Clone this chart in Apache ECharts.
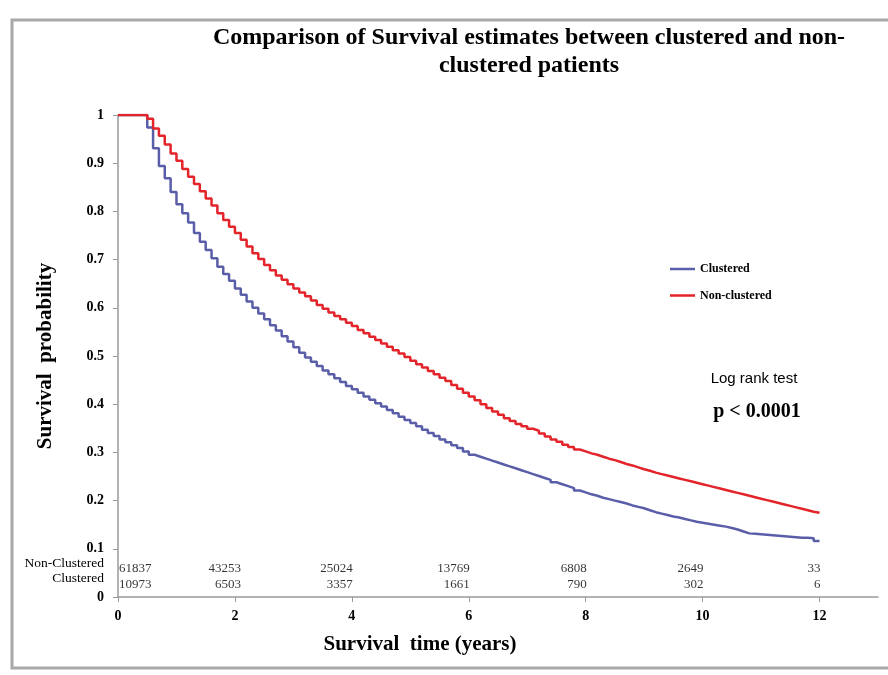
<!DOCTYPE html>
<html>
<head>
<meta charset="utf-8">
<script src="https://cdn.jsdelivr.net/npm/echarts@6/dist/echarts.min.js"></script>
<style>html,body{margin:0;padding:0;background:#fff}#c{width:888px;height:675px}</style>
</head>
<body>
<div id="c"></div>
<script>
// ---- data ----
var stepTimes = [0.5,0.6,0.7,0.8,0.9,1.0,1.1,1.2,1.3,1.4,1.5,1.6,1.7,1.8,1.9,2.0,2.1,2.2,2.3,2.4,2.5,2.6,2.7,2.8,2.9,3.0,3.1,3.2,3.3,3.4,3.5,3.6,3.7,3.8,3.9,4.0,4.1,4.2,4.3,4.4,4.5,4.6,4.7,4.8,4.9,5.0,5.1,5.2,5.3,5.4,5.5,5.6,5.7,5.8,5.9,6.0,6.1,6.2,6.3,6.4,6.5,6.6,6.7,6.8,6.9,7.0,7.1,7.2,7.3,7.4,7.5,7.6,7.7,7.8,7.9,8.0,8.1,8.2,8.3,8.4,8.5,8.6,8.7,8.8,8.9,9.0,9.1,9.2,9.3,9.4,9.5,9.6,9.7,9.8,9.9,10.0,10.1,10.2,10.3,10.4,10.5,10.6,10.7,10.8,10.9,11.0,11.1,11.2,11.3,11.4,11.5,11.6,11.7,11.8,11.9,12.0];

var nonClustered = [0.992,0.972,0.957,0.939,0.920,0.905,0.888,0.872,0.857,0.842,0.827,0.812,0.796,0.782,0.768,0.755,0.741,0.727,0.713,0.701,0.689,0.678,0.667,0.658,0.649,0.640,0.632,0.624,0.615,0.606,0.598,0.590,0.583,0.576,0.569,0.562,0.554,0.547,0.540,0.533,0.526,0.519,0.512,0.505,0.498,0.490,0.483,0.476,0.469,0.462,0.455,0.448,0.440,0.432,0.424,0.416,0.408,0.400,0.392,0.385,0.378,0.371,0.365,0.359,0.354,0.349,0.345,0.339,0.333,0.327,0.322,0.316,0.311,0.306,0.302,0.298,0.295,0.291,0.287,0.284,0.280,0.276,0.273,0.269,0.265,0.262,0.258,0.255,0.252,0.249,0.246,0.243,0.240,0.237,0.234,0.231,0.228,0.225,0.222,0.219,0.216,0.213,0.210,0.207,0.204,0.201,0.198,0.195,0.192,0.189,0.186,0.183,0.180,0.177,0.175,0.175];

var clustered = [0.974,0.931,0.894,0.869,0.840,0.815,0.796,0.777,0.755,0.737,0.720,0.703,0.685,0.670,0.656,0.640,0.627,0.613,0.600,0.588,0.576,0.564,0.553,0.541,0.530,0.518,0.507,0.497,0.488,0.479,0.470,0.462,0.454,0.446,0.438,0.431,0.424,0.416,0.409,0.402,0.395,0.388,0.381,0.374,0.367,0.361,0.354,0.347,0.340,0.334,0.327,0.321,0.315,0.309,0.302,0.295,0.291,0.287,0.283,0.279,0.275,0.271,0.267,0.263,0.259,0.255,0.251,0.247,0.243,0.238,0.234,0.230,0.226,0.221,0.217,0.213,0.210,0.206,0.203,0.200,0.197,0.194,0.190,0.187,0.184,0.180,0.176,0.173,0.170,0.167,0.165,0.162,0.159,0.156,0.154,0.152,0.150,0.148,0.146,0.143,0.140,0.136,0.132,0.131,0.130,0.129,0.128,0.127,0.126,0.125,0.124,0.123,0.123,0.122,0.116,0.116];

var riskTimes = [0,2,4,6,8,10,12];
var riskNonClustered = [61837,43253,25024,13769,6808,2649,33];
var riskClustered = [10973,6503,3357,1661,790,302,6];

var xTicks = [0,2,4,6,8,10,12];
var yTicks = [0,0.1,0.2,0.3,0.4,0.5,0.6,0.7,0.8,0.9,1];

// ---- build ----
function km(vals){
  var d = [[0,1]];
  for (var i=0;i<stepTimes.length;i++) d.push([stepTimes[i], vals[i]]);
  return d;
}
var serif = '"Liberation Serif","Times New Roman",serif';
var rowTop = 0.058, rowBottom = 0.025;
function riskData(arr, yv){
  return arr.map(function(n,i){
    return {
      value:[riskTimes[i], yv, n],
      label:{position: i===0 ? 'right' : 'left', distance: i===0 ? 1 : (i===1 ? -6 : -1)}
    };
  });
}

var chart = echarts.init(document.getElementById('c'), null, {renderer:'canvas'});
chart.setOption({
  animation:false,
  backgroundColor:'#fff',
  grid:{left:118, right:10, top:115, bottom:78, containLabel:false},
  xAxis:{
    type:'value', min:0, max:13, interval:2,
    axisLine:{lineStyle:{color:'#9a9a9a', width:1.5}},
    axisTick:{show:true, length:5, customValues:xTicks, lineStyle:{color:'#9a9a9a'}},
    axisLabel:{customValues:xTicks, margin:12, color:'#000', fontFamily:serif, fontWeight:'bold', fontSize:14},
    splitLine:{show:false}
  },
  yAxis:{
    type:'value', min:0, max:1, interval:0.1,
    name:'Survival  probability', nameLocation:'middle', nameGap:62,
    nameTextStyle:{color:'#000', fontFamily:serif, fontWeight:'bold', fontSize:21},
    axisLine:{show:true, lineStyle:{color:'#9a9a9a', width:1.5}},
    axisTick:{show:true, length:5, customValues:yTicks, lineStyle:{color:'#9a9a9a'}},
    axisLabel:{customValues:yTicks, margin:14, color:'#000', fontFamily:serif, fontWeight:'bold', fontSize:14},
    splitLine:{show:false}
  },
  legend:{
    orient:'vertical', left:670, top:263, padding:0, icon:'rect', itemWidth:25, itemHeight:2.5, itemGap:14.5,
    data:['Clustered','Non-clustered'],
    textStyle:{color:'#000', fontFamily:serif, fontWeight:'bold', fontSize:12}
  },
  graphic:[
    {type:'rect', z:-10, silent:true, shape:{x:12, y:20, width:1000, height:648}, style:{fill:'none', stroke:'#a8a8a8', lineWidth:3}},
    {type:'text', style:{text:'Comparison of Survival estimates between clustered and non-\nclustered patients', x:529, y:24, textAlign:'center', font:'bold 24px '+serif, lineHeight:28, fill:'#000'}},
    {type:'text', style:{text:'Survival  time (years)', x:420, y:634, textAlign:'center', font:'bold 21px '+serif, fill:'#000'}},
    {type:'text', style:{text:'Log rank test', x:754, y:371, textAlign:'center', font:'15px "Liberation Sans",Arial,sans-serif', fill:'#000'}},
    {type:'text', style:{text:'p < 0.0001', x:757, y:402, textAlign:'center', font:'bold 20px '+serif, fill:'#000'}},
    {type:'text', style:{text:'Non-Clustered', x:104, y:556, textAlign:'right', font:'13.5px '+serif, fill:'#000'}},
    {type:'text', style:{text:'Clustered', x:104, y:571, textAlign:'right', font:'13.5px '+serif, fill:'#000'}}
  ],
  series:[
    {name:'Clustered', type:'line', step:'end', symbol:'none', data:km(clustered),
     lineStyle:{color:'#5a5ea8', width:2.5}, itemStyle:{color:'#5a5ea8'}, z:2},
    {name:'Non-clustered', type:'line', step:'end', symbol:'none', data:km(nonClustered),
     lineStyle:{color:'#e3242b', width:2.5}, itemStyle:{color:'#e3242b'}, z:3},
    {name:'riskTop', type:'scatter', symbolSize:0, silent:true, data:riskData(riskNonClustered,rowTop),
     label:{show:true, formatter:function(p){return p.value[2];}, color:'#000', fontFamily:serif, fontSize:13}},
    {name:'riskBottom', type:'scatter', symbolSize:0, silent:true, data:riskData(riskClustered,rowBottom),
     label:{show:true, formatter:function(p){return p.value[2];}, color:'#000', fontFamily:serif, fontSize:13}}
  ]
});
</script>
</body>
</html>
